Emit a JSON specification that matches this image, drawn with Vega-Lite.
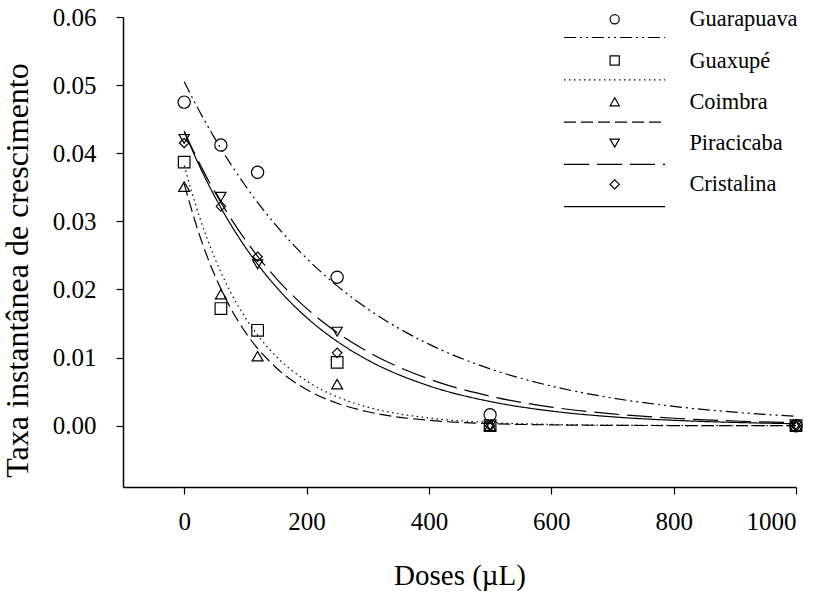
{
  "$schema": "https://vega.github.io/schema/vega-lite/v6.json",
  "width": 673,
  "height": 470,
  "autosize": {"type": "none"},
  "padding": {"left": 123, "top": 17, "right": 31, "bottom": 109},
  "background": "white",
  "config": {
    "view": {"stroke": null},
    "font": "Liberation Serif",
    "axis": {
      "grid": false,
      "domainColor": "black",
      "domainWidth": 1.5,
      "tickColor": "black",
      "tickWidth": 1.2,
      "tickSize": 7,
      "labelFont": "Liberation Serif",
      "labelFontSize": 25,
      "labelColor": "black",
      "titleFont": "Liberation Serif",
      "titleFontSize": 29,
      "titleFontWeight": "normal",
      "titleColor": "black"
    }
  },
  "datasets": {
    "pts": [
      {"site": "Guarapuava", "dose": 0, "rate": 0.0475},
      {"site": "Guarapuava", "dose": 60, "rate": 0.0412},
      {"site": "Guarapuava", "dose": 120, "rate": 0.0372},
      {"site": "Guarapuava", "dose": 250, "rate": 0.0218},
      {"site": "Guarapuava", "dose": 500, "rate": 0.0016},
      {"site": "Guarapuava", "dose": 1000, "rate": 0.0},
      {"site": "Guaxupé", "dose": 0, "rate": 0.0387},
      {"site": "Guaxupé", "dose": 60, "rate": 0.0172},
      {"site": "Guaxupé", "dose": 120, "rate": 0.014},
      {"site": "Guaxupé", "dose": 250, "rate": 0.0093},
      {"site": "Guaxupé", "dose": 500, "rate": 0.0},
      {"site": "Guaxupé", "dose": 1000, "rate": 0.0},
      {"site": "Coimbra", "dose": 0, "rate": 0.0351},
      {"site": "Coimbra", "dose": 60, "rate": 0.0193},
      {"site": "Coimbra", "dose": 120, "rate": 0.0102},
      {"site": "Coimbra", "dose": 250, "rate": 0.0061},
      {"site": "Coimbra", "dose": 500, "rate": 0.0},
      {"site": "Coimbra", "dose": 1000, "rate": 0.0},
      {"site": "Piracicaba", "dose": 0, "rate": 0.0421},
      {"site": "Piracicaba", "dose": 60, "rate": 0.0336},
      {"site": "Piracicaba", "dose": 120, "rate": 0.0237},
      {"site": "Piracicaba", "dose": 250, "rate": 0.0138},
      {"site": "Piracicaba", "dose": 500, "rate": 0.0},
      {"site": "Piracicaba", "dose": 1000, "rate": 0.0},
      {"site": "Cristalina", "dose": 0, "rate": 0.0415},
      {"site": "Cristalina", "dose": 60, "rate": 0.0322},
      {"site": "Cristalina", "dose": 120, "rate": 0.0248},
      {"site": "Cristalina", "dose": 250, "rate": 0.0107},
      {"site": "Cristalina", "dose": 500, "rate": 0.0},
      {"site": "Cristalina", "dose": 1000, "rate": 0.0}
    ],
    "fit": [
      {"curve": "Guarapuava", "dose": 0, "rate": 0.0505},
      {"curve": "Guarapuava", "dose": 25, "rate": 0.04615},
      {"curve": "Guarapuava", "dose": 50, "rate": 0.04218},
      {"curve": "Guarapuava", "dose": 75, "rate": 0.03855},
      {"curve": "Guarapuava", "dose": 100, "rate": 0.03523},
      {"curve": "Guarapuava", "dose": 150, "rate": 0.02943},
      {"curve": "Guarapuava", "dose": 200, "rate": 0.02458},
      {"curve": "Guarapuava", "dose": 250, "rate": 0.02053},
      {"curve": "Guarapuava", "dose": 300, "rate": 0.01715},
      {"curve": "Guarapuava", "dose": 400, "rate": 0.01197},
      {"curve": "Guarapuava", "dose": 500, "rate": 0.00835},
      {"curve": "Guarapuava", "dose": 600, "rate": 0.00582},
      {"curve": "Guarapuava", "dose": 700, "rate": 0.00406},
      {"curve": "Guarapuava", "dose": 800, "rate": 0.00284},
      {"curve": "Guarapuava", "dose": 900, "rate": 0.00198},
      {"curve": "Guarapuava", "dose": 1000, "rate": 0.00138},
      {"curve": "Guaxupé", "dose": 0, "rate": 0.0382},
      {"curve": "Guaxupé", "dose": 25, "rate": 0.03066},
      {"curve": "Guaxupé", "dose": 50, "rate": 0.0246},
      {"curve": "Guaxupé", "dose": 75, "rate": 0.01974},
      {"curve": "Guaxupé", "dose": 100, "rate": 0.01585},
      {"curve": "Guaxupé", "dose": 150, "rate": 0.0102},
      {"curve": "Guaxupé", "dose": 200, "rate": 0.00657},
      {"curve": "Guaxupé", "dose": 250, "rate": 0.00423},
      {"curve": "Guaxupé", "dose": 300, "rate": 0.00273},
      {"curve": "Guaxupé", "dose": 400, "rate": 0.00113},
      {"curve": "Guaxupé", "dose": 500, "rate": 0.00047},
      {"curve": "Guaxupé", "dose": 600, "rate": 0.00019},
      {"curve": "Guaxupé", "dose": 700, "rate": 0.00008},
      {"curve": "Guaxupé", "dose": 800, "rate": 0.00003},
      {"curve": "Guaxupé", "dose": 900, "rate": 0.00001},
      {"curve": "Guaxupé", "dose": 1000, "rate": 0.0},
      {"curve": "Coimbra", "dose": 0, "rate": 0.0355},
      {"curve": "Coimbra", "dose": 25, "rate": 0.028},
      {"curve": "Coimbra", "dose": 50, "rate": 0.02208},
      {"curve": "Coimbra", "dose": 75, "rate": 0.01741},
      {"curve": "Coimbra", "dose": 100, "rate": 0.01373},
      {"curve": "Coimbra", "dose": 150, "rate": 0.00854},
      {"curve": "Coimbra", "dose": 200, "rate": 0.00531},
      {"curve": "Coimbra", "dose": 250, "rate": 0.0033},
      {"curve": "Coimbra", "dose": 300, "rate": 0.00205},
      {"curve": "Coimbra", "dose": 400, "rate": 0.00079},
      {"curve": "Coimbra", "dose": 500, "rate": 0.00031},
      {"curve": "Coimbra", "dose": 600, "rate": 0.00012},
      {"curve": "Coimbra", "dose": 700, "rate": 0.00005},
      {"curve": "Coimbra", "dose": 800, "rate": 0.00002},
      {"curve": "Coimbra", "dose": 900, "rate": 0.00001},
      {"curve": "Coimbra", "dose": 1000, "rate": 0.0},
      {"curve": "Piracicaba", "dose": 0, "rate": 0.0432},
      {"curve": "Piracicaba", "dose": 25, "rate": 0.03851},
      {"curve": "Piracicaba", "dose": 50, "rate": 0.03432},
      {"curve": "Piracicaba", "dose": 75, "rate": 0.03059},
      {"curve": "Piracicaba", "dose": 100, "rate": 0.02727},
      {"curve": "Piracicaba", "dose": 150, "rate": 0.02167},
      {"curve": "Piracicaba", "dose": 200, "rate": 0.01722},
      {"curve": "Piracicaba", "dose": 250, "rate": 0.01368},
      {"curve": "Piracicaba", "dose": 300, "rate": 0.01087},
      {"curve": "Piracicaba", "dose": 400, "rate": 0.00686},
      {"curve": "Piracicaba", "dose": 500, "rate": 0.00433},
      {"curve": "Piracicaba", "dose": 600, "rate": 0.00273},
      {"curve": "Piracicaba", "dose": 700, "rate": 0.00173},
      {"curve": "Piracicaba", "dose": 800, "rate": 0.00109},
      {"curve": "Piracicaba", "dose": 900, "rate": 0.00069},
      {"curve": "Piracicaba", "dose": 1000, "rate": 0.00043},
      {"curve": "Cristalina", "dose": 0, "rate": 0.0432},
      {"curve": "Cristalina", "dose": 25, "rate": 0.03812},
      {"curve": "Cristalina", "dose": 50, "rate": 0.03364},
      {"curve": "Cristalina", "dose": 75, "rate": 0.02969},
      {"curve": "Cristalina", "dose": 100, "rate": 0.0262},
      {"curve": "Cristalina", "dose": 150, "rate": 0.02041},
      {"curve": "Cristalina", "dose": 200, "rate": 0.01589},
      {"curve": "Cristalina", "dose": 250, "rate": 0.01238},
      {"curve": "Cristalina", "dose": 300, "rate": 0.00964},
      {"curve": "Cristalina", "dose": 400, "rate": 0.00585},
      {"curve": "Cristalina", "dose": 500, "rate": 0.00355},
      {"curve": "Cristalina", "dose": 600, "rate": 0.00215},
      {"curve": "Cristalina", "dose": 700, "rate": 0.0013},
      {"curve": "Cristalina", "dose": 800, "rate": 0.00079},
      {"curve": "Cristalina", "dose": 900, "rate": 0.00048},
      {"curve": "Cristalina", "dose": 1000, "rate": 0.00029}
    ]
  },
  "encoding": {
    "x": {
      "field": "dose",
      "type": "quantitative",
      "scale": {"domain": [-100, 1000], "nice": false, "zero": false},
      "axis": {"values": [0, 200, 400, 600, 800, 1000], "format": "d", "title": "Doses (µL)", "labelFont": "Liberation Serif", "labelPadding": 15, "titlePadding": 27}
    },
    "y": {
      "field": "rate",
      "type": "quantitative",
      "scale": {"domain": [-0.009, 0.06], "nice": false, "zero": false},
      "axis": {"values": [0, 0.01, 0.02, 0.03, 0.04, 0.05, 0.06], "format": ".2f", "title": "Taxa instantânea de crescimento", "labelFont": "Liberation Serif", "labelPadding": 20, "titlePadding": 18, "titleFontSize": 32, "titleY": 253}
    }
  },
  "layer": [
    {
      "data": {"name": "fit"},
      "mark": {"type": "line", "interpolate": "monotone", "color": "black", "strokeWidth": 1.2},
      "encoding": {
        "strokeDash": {
          "field": "curve",
          "type": "nominal",
          "sort": null,
          "scale": {
            "range": [[12, 4, 2, 4, 2, 4], [1.5, 3.5], [12, 5], [25, 8], [1, 0]]
          },
          "legend": {
            "title": null,
            "orient": "none",
            "legendX": 440,
            "legendY": 10,
            "symbolType": "stroke",
            "symbolSize": 10201,
            "symbolStrokeColor": "black",
            "symbolStrokeWidth": 1.2,
            "labelExpr": "''",
            "labelFontSize": 21,
            "labelOffset": 0,
            "clipHeight": 21,
            "rowPadding": 20.3,
            "padding": 0
          }
        }
      }
    },
    {
      "data": {"name": "pts"},
      "mark": {"type": "point", "filled": false, "color": "black", "strokeWidth": 1.2, "opacity": 1},
      "encoding": {
        "shape": {
          "field": "site",
          "type": "nominal",
          "sort": null,
          "scale": {
            "domain": ["Guarapuava", "Guaxupé", "Coimbra", "Piracicaba", "Cristalina"],
            "range": ["circle", "square", "triangle-up", "triangle-down", "diamond"]
          },
          "legend": {
            "title": null,
            "orient": "none",
            "legendX": 480.5,
            "legendY": -9,
            "symbolSize": 85,
            "symbolStrokeColor": "black",
            "symbolStrokeWidth": 1.2,
            "labelFont": "Liberation Serif",
            "labelFontSize": 22.4,
            "labelColor": "black",
            "labelOffset": 63.5,
            "rowPadding": 18.3,
            "padding": 0
          }
        },
        "size": {
          "field": "site",
          "type": "nominal",
          "sort": null,
          "scale": {
            "range": [150, 90, 140, 140, 170]
          },
          "legend": null
        }
      }
    }
  ]
}
